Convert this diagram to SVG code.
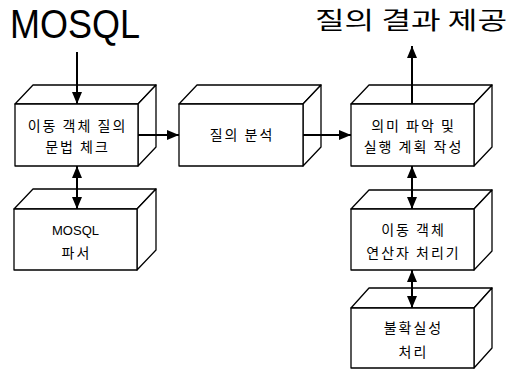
<svg xmlns="http://www.w3.org/2000/svg" width="514" height="372" viewBox="0 0 514 372">
<defs>
<style>
.face{fill:#fff;stroke:#000;stroke-width:1.3;stroke-linejoin:round}
.lbl{font-family:"Noto Sans CJK KR","Liberation Sans",sans-serif;font-size:14px;letter-spacing:2px;fill:#000;text-anchor:middle}
.lat{font-family:"Liberation Sans",sans-serif;font-size:13px;fill:#000;text-anchor:middle}
.conn{stroke:#000;stroke-width:2;fill:none}
</style>
<marker id="ah" viewBox="0 0 12 10" refX="12" refY="5" markerWidth="12" markerHeight="10" markerUnits="userSpaceOnUse" orient="auto-start-reverse">
<path d="M0,0 L12,5 L0,10 Z" fill="#000"/>
</marker>
</defs>
<rect width="514" height="372" fill="#fff"/>
<text x="10" y="38" font-family="Liberation Sans,sans-serif" font-size="41" textLength="130" lengthAdjust="spacingAndGlyphs">MOSQL</text>
<text x="315" y="29" font-family="Noto Sans CJK KR,sans-serif" font-size="24" textLength="192" lengthAdjust="spacingAndGlyphs">질의 결과 제공</text>

<g id="box1">
<polygon class="face" points="15,104 33,85 156,85 138,104"/>
<polygon class="face" points="138,104 156,85 156,147 138,166"/>
<rect class="face" x="15" y="104" width="123" height="62"/>
<text class="lbl" x="77.5" y="131">이동 객체 질의</text>
<text class="lbl" x="77.5" y="152">문법 체크</text>
</g>
<g id="box2">
<polygon class="face" points="179,104 197,85 321,85 303,104"/>
<polygon class="face" points="303,104 321,85 321,147 303,166"/>
<rect class="face" x="179" y="104" width="124" height="62"/>
<text class="lbl" x="242" y="140">질의 분석</text>
</g>
<g id="box3">
<polygon class="face" points="351,104 369,85 492,85 474,104"/>
<polygon class="face" points="474,104 492,85 492,147 474,166"/>
<rect class="face" x="351" y="104" width="123" height="62"/>
<text class="lbl" x="413.5" y="131">의미 파악 및</text>
<text class="lbl" x="413.5" y="152">실행 계획 작성</text>
</g>
<g id="box4">
<polygon class="face" points="14,209 33,189 156,189 137,209"/>
<polygon class="face" points="137,209 156,189 156,250 137,270"/>
<rect class="face" x="14" y="209" width="123" height="61"/>
<text class="lat" x="75.5" y="235">MOSQL</text>
<text class="lbl" x="76.5" y="258">파서</text>
</g>
<g id="box5">
<polygon class="face" points="351,209 369,190 492,190 474,209"/>
<polygon class="face" points="474,209 492,190 492,251 474,270"/>
<rect class="face" x="351" y="209" width="123" height="61"/>
<text class="lbl" x="413.5" y="235">이동 객체</text>
<text class="lbl" x="413.5" y="258">연산자 처리기</text>
</g>
<g id="box6">
<polygon class="face" points="351,308 369,288 492,288 474,308"/>
<polygon class="face" points="474,308 492,288 492,348 474,368"/>
<rect class="face" x="351" y="308" width="123" height="60"/>
<text class="lbl" x="413.5" y="333">불확실성</text>
<text class="lbl" x="413.5" y="357">처리</text>
</g>

<g id="connectors">
<line class="conn" x1="77" y1="52" x2="77" y2="104" marker-end="url(#ah)"/>
<line class="conn" x1="138" y1="135" x2="179" y2="135" marker-end="url(#ah)"/>
<line class="conn" x1="303" y1="135" x2="351" y2="135" marker-end="url(#ah)"/>
<line class="conn" x1="412" y1="104" x2="412" y2="46" marker-end="url(#ah)"/>
<line class="conn" x1="77" y1="166" x2="77" y2="209" marker-start="url(#ah)" marker-end="url(#ah)"/>
<line class="conn" x1="412" y1="166" x2="412" y2="209" marker-start="url(#ah)" marker-end="url(#ah)"/>
<line class="conn" x1="412" y1="270" x2="412" y2="308" marker-start="url(#ah)" marker-end="url(#ah)"/>
</g>
</svg>
